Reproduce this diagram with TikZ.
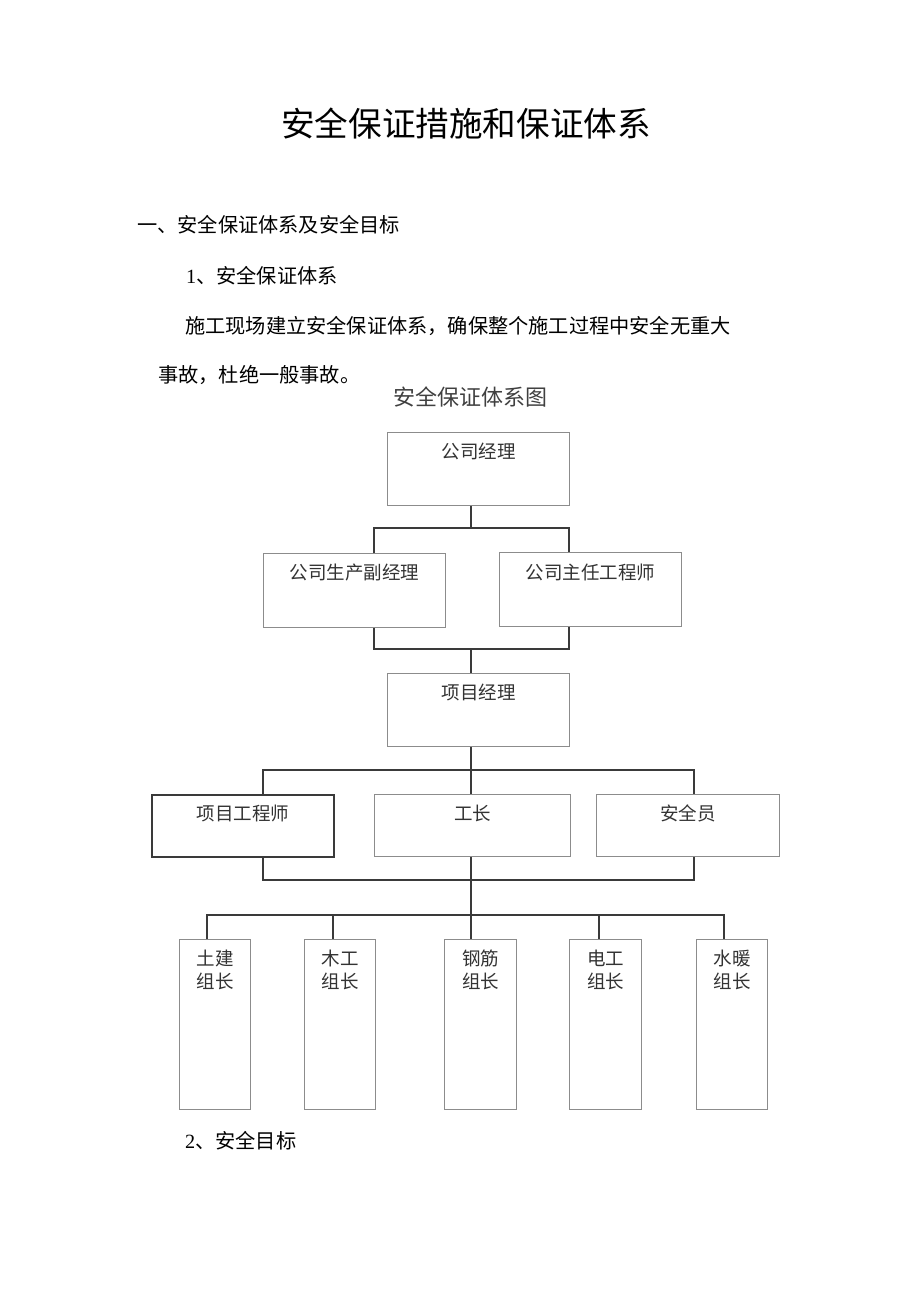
\documentclass[tikz,border=0pt]{standalone}
\usepackage{fontspec}
\setmainfont{Noto Sans CJK SC}
\newfontfamily\latn{Liberation Serif}
\definecolor{boxgray}{HTML}{8C8C8C}
\definecolor{linegray}{HTML}{3A3A3A}
\definecolor{txtgray}{HTML}{333333}
\begin{document}
\begin{tikzpicture}[x=1pt,y=-1pt,
  box/.style={draw=boxgray,line width=1pt,rectangle,inner sep=0pt,anchor=north west},
  strongbox/.style={draw=linegray,line width=2pt,rectangle,inner sep=0pt,anchor=north west},
  lbl/.style={text=txtgray,font=\fontsize{18.5}{23.5}\selectfont,inner sep=0pt,align=center,anchor=center},
  conn/.style={draw=linegray,line width=1.8pt},
  body/.style={font=\fontsize{20.2}{24}\selectfont,inner sep=0pt,anchor=west}]
\useasboundingbox[fill=white] (0,0) rectangle (920,1301);

% texts
\node[inner sep=0pt,font=\fontsize{33.6}{38}\selectfont] (title) at (466,124) {安全保证措施和保证体系};
\node[body] (h1) at (137,225) {一、安全保证体系及安全目标};
\node[body] (h2) at (186,276) {{\latn 1}、安全保证体系};
\node[body] (p1) at (185,326) {施工现场建立安全保证体系，确保整个施工过程中安全无重大};
\node[body] (p2) at (158,375) {事故，杜绝一般事故。};
\node[inner sep=0pt,text=black!75,font=\fontsize{22}{26}\selectfont] (ctitle) at (470,397) {安全保证体系图};
\node[body] (h3) at (185,1141) {{\latn 2}、安全目标};

% boxes
\node[box,minimum width=182pt,minimum height=73pt] (gm) at (387,432) {};
\node[lbl] at ([yshift=-19pt]gm.north) {公司经理};
\node[box,minimum width=182pt,minimum height=74pt] (vp) at (263,553) {};
\node[lbl] at ([yshift=-20pt]vp.north) {公司生产副经理};
\node[box,minimum width=182pt,minimum height=74pt] (ce) at (499,552) {};
\node[lbl] at ([yshift=-20pt]ce.north) {公司主任工程师};
\node[box,minimum width=182pt,minimum height=73pt] (pm) at (387,673) {};
\node[lbl] at ([yshift=-19pt]pm.north) {项目经理};
\node[strongbox,minimum width=182pt,minimum height=62pt] (pe) at (151,794) {};
\node[lbl] at ([yshift=-19pt]pe.north) {项目工程师};
\node[box,minimum width=196pt,minimum height=62pt] (fm) at (374,794) {};
\node[lbl] at ([yshift=-19pt]fm.north) {工长};
\node[box,minimum width=183pt,minimum height=62pt] (sf) at (596,794) {};
\node[lbl] at ([yshift=-19pt]sf.north) {安全员};

\node[box,minimum width=71pt,minimum height=170pt] (g1) at (179,939) {};
\node[lbl] at ([yshift=-31pt]g1.north) {土建\\组长};
\node[box,minimum width=71pt,minimum height=170pt] (g2) at (304,939) {};
\node[lbl] at ([yshift=-31pt]g2.north) {木工\\组长};
\node[box,minimum width=72pt,minimum height=170pt] (g3) at (444,939) {};
\node[lbl] at ([yshift=-31pt]g3.north) {钢筋\\组长};
\node[box,minimum width=72pt,minimum height=170pt] (g4) at (569,939) {};
\node[lbl] at ([yshift=-31pt]g4.north) {电工\\组长};
\node[box,minimum width=71pt,minimum height=170pt] (g5) at (696,939) {};
\node[lbl] at ([yshift=-31pt]g5.north) {水暖\\组长};

% junction coordinates
\coordinate (a1) at (471,528);
\coordinate (aL) at (374,528);
\coordinate (aR) at (569,528);
\coordinate (b1) at (471,649);
\coordinate (bL) at (374,649);
\coordinate (bR) at (569,649);
\coordinate (c1) at (471,770);
\coordinate (cL) at (263,770);
\coordinate (cR) at (694,770);
\coordinate (d1) at (471,880);
\coordinate (dL) at (263,880);
\coordinate (dR) at (694,880);
\coordinate (e1) at (471,915);
\coordinate (eL) at (207,915);
\coordinate (e2) at (333,915);
\coordinate (e4) at (599,915);
\coordinate (eR) at (724,915);

% connectors
\draw[conn] (a1 |- gm.south) -- (a1);
\draw[conn] (aL |- vp.north) -- (aL) -- (aR) -- (aR |- ce.north);
\draw[conn] (bL |- vp.south) -- (bL) -- (bR) -- (bR |- ce.south);
\draw[conn] (b1) -- (b1 |- pm.north);
\draw[conn] (c1 |- pm.south) -- (c1 |- fm.north);
\draw[conn] (cL |- pe.north) -- (cL) -- (cR) -- (cR |- sf.north);
\draw[conn] (dL |- pe.south) -- (dL) -- (dR) -- (dR |- sf.south);
\draw[conn] (d1 |- fm.south) -- (e1 |- g3.north);
\draw[conn] (eL |- g1.north) -- (eL) -- (eR) -- (eR |- g5.north);
\draw[conn] (e2) -- (e2 |- g2.north);
\draw[conn] (e4) -- (e4 |- g4.north);
\end{tikzpicture}
\end{document}
